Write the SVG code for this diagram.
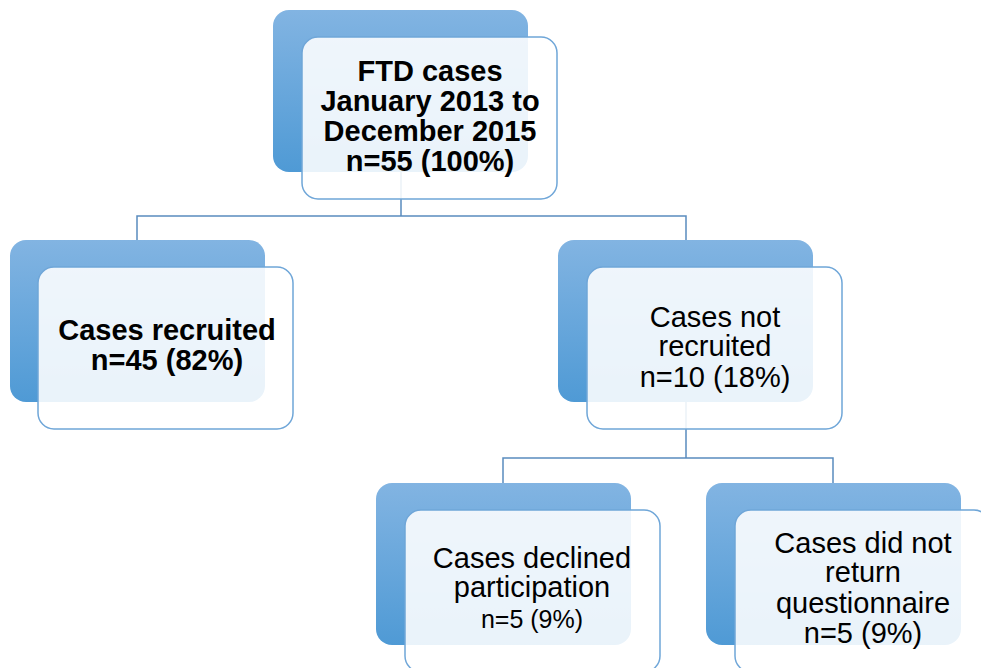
<svg xmlns="http://www.w3.org/2000/svg" width="981" height="668" viewBox="0 0 981 668">
<defs>
<linearGradient id="g" x1="0" y1="0" x2="0" y2="1">
<stop offset="0" stop-color="#82B4E2"/>
<stop offset="1" stop-color="#4F9AD5"/>
</linearGradient>
<style>
.back{fill:url(#g);}
.front{fill:#FFFFFF;fill-opacity:0.88;stroke:#6FA6D8;stroke-width:1.5;}
.conn{fill:none;stroke:#5A8CBE;stroke-width:1.5;}
.t{font-family:"Liberation Sans",Arial,sans-serif;font-size:29px;fill:#000;text-anchor:middle;}
.b{font-weight:bold;}
</style>
</defs>
<rect width="981" height="668" fill="#FFFFFF"/>
<g id="connectors">
<path class="conn" d="M401,172 V216 M137,240 V216 H686 V240"/>
<path class="conn" d="M686,402 V458 M503,483 V458 H833 V483"/>
</g>
<g id="node-ftd">
<rect class="back" x="273" y="10" width="255" height="162" rx="16"/>
<rect class="front" x="302" y="37" width="255" height="162" rx="16"/>
<text class="t b" x="430" y="81">FTD cases</text>
<text class="t b" x="430" y="111">January 2013 to</text>
<text class="t b" x="430" y="141">December 2015</text>
<text class="t b" x="430" y="171">n=55 (100%)</text>
</g>
<g id="node-recruited">
<rect class="back" x="10" y="240" width="255" height="162" rx="16"/>
<rect class="front" x="38" y="267" width="255" height="162" rx="16"/>
<text class="t b" x="167" y="340">Cases recruited</text>
<text class="t b" x="167" y="370">n=45 (82%)</text>
</g>
<g id="node-not-recruited">
<rect class="back" x="558" y="240" width="255" height="162" rx="16"/>
<rect class="front" x="587" y="267" width="255" height="162" rx="16"/>
<text class="t" x="715" y="327">Cases not</text>
<text class="t" x="715" y="356">recruited</text>
<text class="t" x="715" y="387">n=10 (18%)</text>
</g>
<g id="node-declined">
<rect class="back" x="376" y="483" width="255" height="162" rx="16"/>
<rect class="front" x="405" y="510" width="255" height="162" rx="16"/>
<text class="t" x="532" y="568">Cases declined</text>
<text class="t" x="532" y="597">participation</text>
<text class="t" x="532" y="628" style="font-size:25px">n=5 (9%)</text>
</g>
<g id="node-no-return">
<rect class="back" x="706" y="483" width="255" height="162" rx="16"/>
<rect class="front" x="735" y="510" width="255" height="162" rx="16"/>
<text class="t" x="863" y="553">Cases did not</text>
<text class="t" x="863" y="582">return</text>
<text class="t" x="863" y="613">questionnaire</text>
<text class="t" x="863" y="643">n=5 (9%)</text>
</g>
</svg>
